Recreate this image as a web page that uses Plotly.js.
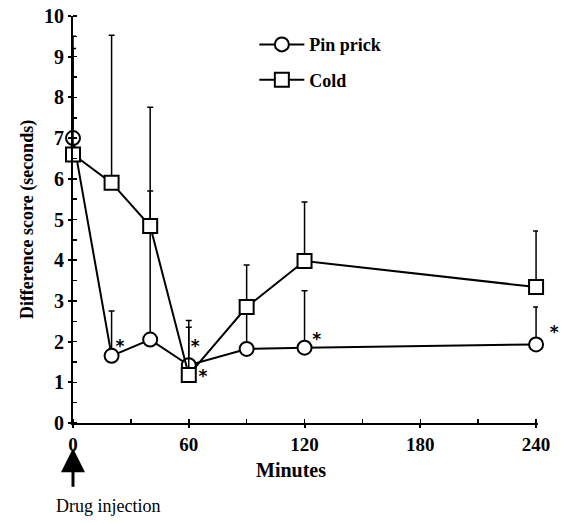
<!DOCTYPE html>
<html><head><meta charset="utf-8">
<script src="https://cdn.plot.ly/plotly-3.0.1.min.js"></script>
<style>html,body{margin:0;padding:0;background:#fff;}#chart{width:569px;height:523px;}</style>
</head><body><div id="chart"></div>
<script>
// Data
const minutes = [0, 20, 40, 60, 90, 120, 240];
const pinPrick = [7.0, 1.65, 2.05, 1.42, 1.82, 1.85, 1.93];
const pinPrickErr = [2.5, 1.1, 3.65, 1.1, 1.1, 1.4, 0.92];
const cold = [6.6, 5.9, 4.84, 1.18, 2.85, 3.98, 3.34];
const coldErr = [2.6, 3.63, 2.92, 1.17, 1.03, 1.45, 1.38];
const starX = [22, 61, 65, 124, 241];
const starY = [1.86, 1.85, 1.1, 2.02, 2.2];
const starText = ['*', '*', '*', '*', '\u00a0\u00a0*'];
const xTicks = [0, 60, 120, 180, 240];
const yTicks = [0,1,2,3,4,5,6,7,8,9,10];

const serif = 'Liberation Serif, Times New Roman, serif';
const errStyle = (arr) => ({type:'data', symmetric:false, array:arr, arrayminus:arr.map(()=>0),
  color:'#000', thickness:1.5, width:3});

const traces = [
  {x:minutes, y:pinPrick, name:'Pin prick', mode:'lines+markers', legendgroup:'a',
   line:{color:'#000', width:2},
   marker:{symbol:'circle', size:14, color:'#fff', line:{color:'#000', width:2}},
   error_y:errStyle(pinPrickErr), cliponaxis:false},
  {x:minutes, y:cold, name:'Cold', mode:'lines+markers', legendgroup:'b',
   line:{color:'#000', width:2},
   marker:{symbol:'square', size:14, color:'#fff', line:{color:'#000', width:2}},
   error_y:errStyle(coldErr), cliponaxis:false},
  {x:starX, y:starY, mode:'text', text:starText, textposition:'middle right', showlegend:false,
   textfont:{family:'DejaVu Sans, sans-serif', size:17, color:'#000', weight:'bold'}, cliponaxis:false, hoverinfo:'skip'}
];

const layout = {
  width:569, height:523,
  margin:{l:73, r:31, t:16, b:100},
  paper_bgcolor:'#fff', plot_bgcolor:'#fff',
  showlegend:true,
  legend:{x:0.39, y:0.975, xanchor:'left', yanchor:'top', bgcolor:'rgba(0,0,0,0)',
    traceorder:'grouped', tracegroupgap:9, itemwidth:45,
    font:{family:serif, size:18, color:'#000', weight:'bold'}},
  xaxis:{range:[0,241], tickvals:xTicks, ticktext:xTicks.map(String), showgrid:false, zeroline:false,
    showline:true, linecolor:'#000', linewidth:2, ticks:'outside', ticklen:3, tickwidth:2, tickcolor:'#000',
    minor:{dtick:30, ticks:'inside', ticklen:4, tickwidth:1.5, tickcolor:'#000'},
    tickfont:{family:serif, size:19, color:'#000', weight:'bold'}},
  yaxis:{range:[0,10], tickvals:yTicks, showgrid:false, zeroline:false,
    showline:true, linecolor:'#000', linewidth:2, ticks:'outside', ticklen:3, tickwidth:2, tickcolor:'#000',
    minor:{dtick:0.5, ticks:'inside', ticklen:4, tickwidth:1.5, tickcolor:'#000'},
    tickfont:{family:serif, size:20, color:'#000', weight:'bold'},
    title:{text:'Difference score (seconds)', font:{family:serif, size:18, color:'#000', weight:'bold'}, standoff:6}},
  annotations:[
    {xref:'paper', yref:'paper', x:0.469, y:-0.115, xanchor:'center', yanchor:'middle', text:'Minutes',
     showarrow:false, font:{family:serif, size:20, color:'#000', weight:'bold'}},
    {xref:'x', yref:'paper', x:0, y:-0.062, text:'', showarrow:true, arrowhead:2, arrowsize:1.6,
     arrowwidth:3, arrowcolor:'#000', ax:0, ay:40},
    {xref:'x', yref:'paper', x:0, y:-0.205, xanchor:'left', yanchor:'middle', xshift:-19,
     text:'Drug injection', showarrow:false, font:{family:serif, size:18, color:'#000'}}
  ]
};
Plotly.newPlot('chart', traces, layout, {displayModeBar:false, staticPlot:true});
</script></body></html>
